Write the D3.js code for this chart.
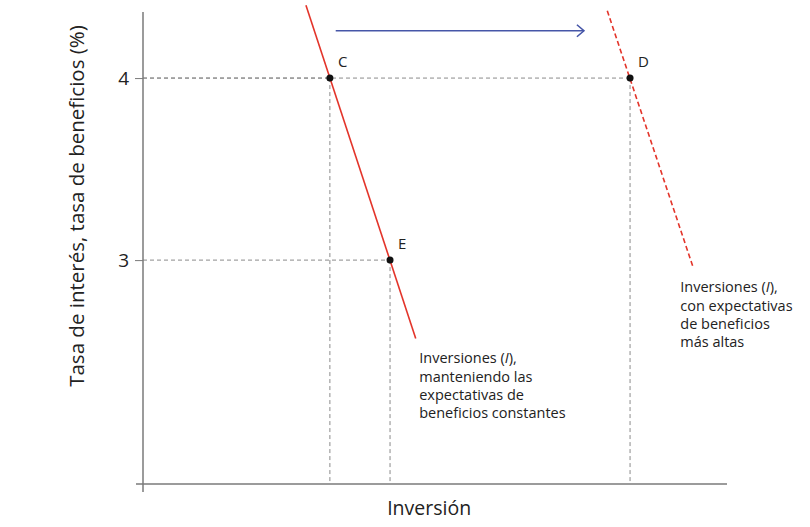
<!DOCTYPE html>
<html>
<head>
<meta charset="utf-8">
<script src="https://cdn.jsdelivr.net/npm/d3@7"></script>
<style>
    body { margin: 0; background: #fff; }
    text { font-family: "Open Sans", "Noto Sans", sans-serif; fill: #222; }
</style>
</head>
<body>
<div id="chart"></div>
<script>
// y ticks (interest rate, %)
const rateTicks = [3, 4];

// investment curves: [investment, rate]
const solidCurve = [[27.9, 4.40], [46.7, 2.57]];
const dashedCurve = [[79.5, 4.37], [94.2, 2.96]];

// labelled points
const pointNames = ["C", "D", "E"];
const pointInv = [32.0, 83.4, 42.3];
const pointRate = [4, 4, 3];

// shift arrow
const arrowInv = [33.0, 75.5];
const arrowRate = 4.26;

const solidLabel = ["Inversiones (|I|),", "manteniendo las", "expectativas de", "beneficios constantes"];
const dashedLabel = ["Inversiones (|I|),", "con expectativas", "de beneficios", "más altas"];

let margin = {top: 12, right: 83, bottom: 43, left: 143};
let width = 810 - margin.left - margin.right,
    height = 527 - margin.top - margin.bottom;

let xScale = d3.scaleLinear().domain([0, 100]).range([0, 584]);
let yScale = d3.scaleLinear().domain([1.77, 4.363]).range([height, 0]);

let svg = d3.select("#chart").append("svg")
    .attr("width", 810).attr("height", 527);

let g = svg.append("g")
    .attr("transform", `translate(${margin.left}, ${margin.top})`);

let red = "#e3342a", gridGray = "#8a8a8a", axisGray = "#7a7a7a";

// dashed guides to the axes
let points = pointNames.map((n, i) => ({name: n, inv: pointInv[i], rate: pointRate[i]}));
points.forEach(function(p) {
    g.append("line")
        .attr("x1", 0).attr("x2", xScale(p.inv))
        .attr("y1", yScale(p.rate)).attr("y2", yScale(p.rate))
        .attr("stroke", gridGray).attr("stroke-width", 1).attr("stroke-dasharray", "4,3");
    g.append("line")
        .attr("x1", xScale(p.inv)).attr("x2", xScale(p.inv))
        .attr("y1", yScale(p.rate)).attr("y2", height)
        .attr("stroke", gridGray).attr("stroke-width", 1).attr("stroke-dasharray", "4,3");
});

// axes
let yAxis = d3.axisLeft(yScale).tickValues(rateTicks).tickFormat(d3.format("d"))
    .tickSize(8).tickPadding(6);
let yAx = g.append("g").call(yAxis);
yAx.select(".domain").remove();
yAx.selectAll("line").attr("stroke", axisGray);
yAx.selectAll("text").style("font-size", "19px").attr("fill", "#222")
    .style("font-family", "'Open Sans', sans-serif");

g.append("line").attr("x1", 0).attr("x2", 0).attr("y1", 0).attr("y2", height + 8)
    .attr("stroke", axisGray).attr("stroke-width", 1.5);
g.append("line").attr("x1", -7).attr("x2", 584).attr("y1", height).attr("y2", height)
    .attr("stroke", axisGray).attr("stroke-width", 1.5);

// curves
let line = d3.line().x(d => xScale(d[0])).y(d => yScale(d[1]));
g.append("path").datum(solidCurve).attr("d", line)
    .attr("fill", "none").attr("stroke", red).attr("stroke-width", 1.6);
g.append("path").datum(dashedCurve).attr("d", line)
    .attr("fill", "none").attr("stroke", red).attr("stroke-width", 1.6)
    .attr("stroke-dasharray", "5,3");

// arrow
let blue = "#4656a8";
let ax1 = xScale(arrowInv[0]), ax2 = xScale(arrowInv[1]), ay = yScale(arrowRate);
g.append("line").attr("x1", ax1).attr("x2", ax2).attr("y1", ay).attr("y2", ay)
    .attr("stroke", blue).attr("stroke-width", 1.6);
g.append("path").attr("d", `M${ax2 - 7},${ay - 6} L${ax2},${ay} L${ax2 - 7},${ay + 6}`)
    .attr("fill", "none").attr("stroke", blue).attr("stroke-width", 1.6);

// points and labels
g.selectAll(".pt").data(points).enter().append("circle")
    .attr("class", "pt")
    .attr("cx", d => xScale(d.inv)).attr("cy", d => yScale(d.rate))
    .attr("r", 3.5).attr("fill", "#111");
g.selectAll(".ptlab").data(points).enter().append("text")
    .attr("class", "ptlab")
    .attr("x", d => xScale(d.inv) + 8).attr("y", d => yScale(d.rate) - 11)
    .style("font-size", "15px").text(d => d.name);

// curve labels (|I| marks italic)
function drawLabel(lines, x, y) {
    let t = g.append("text").attr("x", x).attr("y", y).style("font-size", "14.5px");
    lines.forEach(function(l, i) {
        let parts = l.split("|");
        parts.forEach(function(part, j) {
            let ts = t.append("tspan").text(part);
            if (j === 0) ts.attr("x", x).attr("dy", i === 0 ? 0 : 18.3);
            if (j % 2 === 1) ts.style("font-style", "italic");
        });
    });
}
drawLabel(solidLabel, xScale(47.3), yScale(2.57) + 25);
drawLabel(dashedLabel, xScale(92.0), yScale(2.96) + 25);

// axis titles
svg.append("text")
    .attr("x", margin.left + xScale(49)).attr("y", 515)
    .attr("text-anchor", "middle").style("font-size", "19.5px")
    .text("Inversión");
svg.append("text")
    .attr("transform", "translate(84, 206) rotate(-90)")
    .attr("text-anchor", "middle").style("font-size", "20.5px")
    .text("Tasa de interés, tasa de beneficios (%)");
</script>
</body>
</html>
